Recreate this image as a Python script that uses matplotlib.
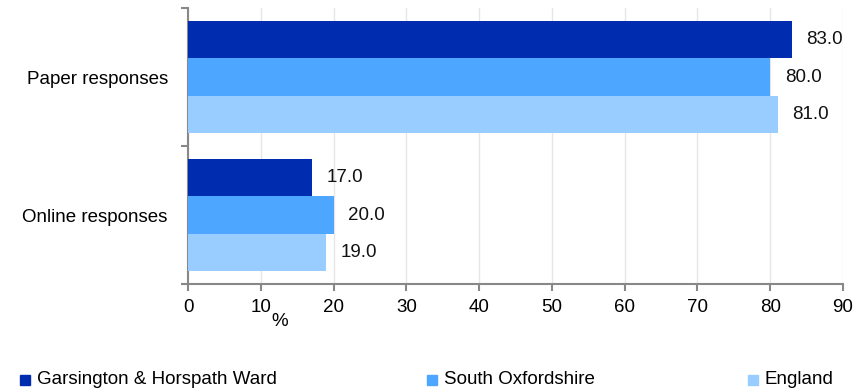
import matplotlib
matplotlib.use("Agg")
import matplotlib.pyplot as plt
import numpy as np

plt.rcParams['font.family'] = ['Liberation Sans', 'DejaVu Sans']

categories = ["Online responses", "Paper responses"]
series_names = ["Garsington & Horspath Ward", "South Oxfordshire", "England"]
values = {
    "Garsington & Horspath Ward": [17.0, 83.0],
    "South Oxfordshire": [20.0, 80.0],
    "England": [19.0, 81.0],
}
colors = ["#002DB0", "#4DA6FF", "#99CCFF"]
xticks = [0, 10, 20, 30, 40, 50, 60, 70, 80, 90]

FS = 13.5
fig = plt.figure(figsize=(8.66, 3.9), dpi=100)
ax = fig.add_axes([188/866, 1-284/390, (843-188)/866, (284-8)/390])

h = 0.27
y = np.arange(len(categories))
offsets = [h, 0, -h]
for name, col, off in zip(series_names, colors, offsets):
    vals = values[name]
    ax.barh(y + off, vals, height=h, color=col, zorder=3)
    for yi, v in zip(y, vals):
        ax.text(v + 2.0, yi + off, f"{v:.1f}", va='center', ha='left', fontsize=FS, color='#111111')

ax.set_xlim(0, 90)
ax.set_ylim(-0.5, 1.5)
ax.set_xticks(xticks)
ax.set_xticklabels([str(t) for t in xticks], fontsize=FS)
ax.set_yticks(y)
ax.set_yticklabels(categories, fontsize=FS)
ax.set_yticks([-0.5, 0.5, 1.5], minor=True)
ax.tick_params(axis='y', which='major', length=0, pad=14.5)
ax.tick_params(axis='y', which='minor', length=5, color='#888888', width=1.5)
ax.tick_params(axis='x', length=5, color='#888888', width=1.5, pad=6)
ax.grid(axis='x', color='#e6e6e6', linewidth=1, zorder=0)
for s in ['top', 'right']:
    ax.spines[s].set_visible(False)
for s in ['left', 'bottom']:
    ax.spines[s].set_color('#888888')
    ax.spines[s].set_linewidth(1.5)

fig.text(280/866, 1-322/390, "%", fontsize=FS, ha='center', va='center')

legend_x = [20, 427, 748]
for name, col, lx in zip(series_names, colors, legend_x):
    fig.patches.append(plt.Rectangle((lx/866, 1-385/390), 10/866, 10/390,
                                     transform=fig.transFigure, color=col))
    fig.text((lx+17)/866, 1-380/390, name, fontsize=FS, va='center', ha='left')

fig.savefig("out.png", dpi=100)
